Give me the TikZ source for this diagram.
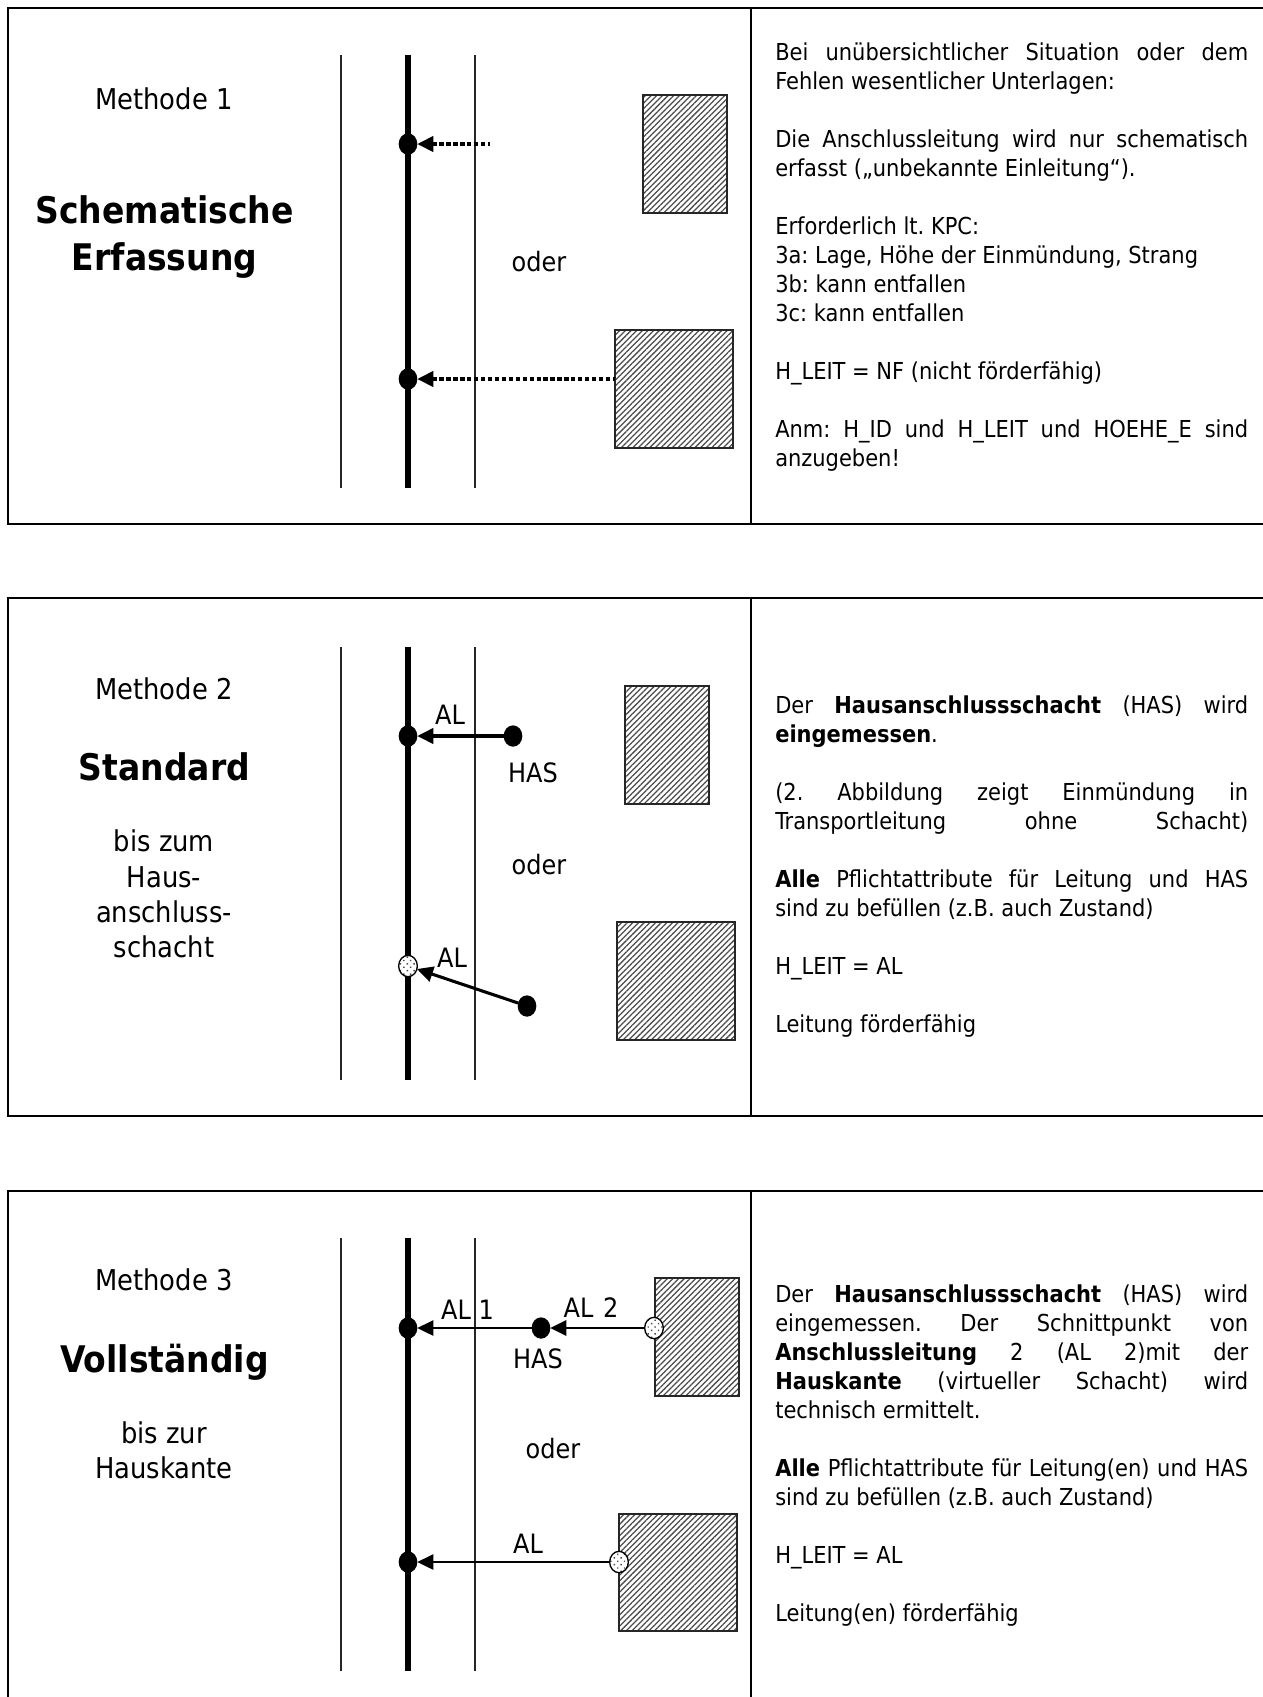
\documentclass[tikz,border=0pt]{standalone}
\usepackage{fontspec}
\setmainfont{DejaVu Sans Condensed}[BoldFont={DejaVu Sans Condensed Bold}]
\usetikzlibrary{arrows.meta,patterns.meta,shapes.geometric}
\tikzset{
  x=0.75pt,y=-0.75pt,
  wall/.style={line width=1.5pt,draw=black},
  thinrule/.style={line width=1.4pt,draw=black!85},
  mainpipe/.style={line width=4pt,draw=black},
  house/.style={rectangle,inner sep=0pt,outer sep=0pt,draw=black!85,line width=1.6pt,
    pattern={Lines[angle=45,distance=3pt,line width=0.95pt]},pattern color=black!70},
  solid dot/.style={ellipse,fill=black,inner sep=0pt,outer sep=0pt,minimum width=14pt,minimum height=16pt},
  stipple dot/.style={ellipse,draw=black,line width=1pt,inner sep=0pt,outer sep=0pt,minimum width=14pt,minimum height=16pt,
    preaction={fill=white},pattern={Dots[radius=0.75pt,distance=3.6pt,angle=45]},pattern color=black!70},
  tiparrow/.style={{Triangle[length=12pt,width=11.5pt]}-,draw=black},
  dotted line/.style={line width=2.4pt,dash pattern=on 3.2pt off 2pt},
  lab/.style={inner sep=0pt,font=\fontsize{20}{24}\selectfont},
  side/.style={inner sep=0pt,align=center,font=\fontsize{21.5}{26.4}\selectfont},
  heading/.style={inner sep=0pt,align=center,font=\fontsize{27.5}{35.25}\selectfont\bfseries},
  body/.style={inner sep=0pt,anchor=base west,font=\fontsize{17.5}{21.75}\selectfont},
}
\newlength{\bw}\setlength{\bw}{354.75pt}
\newcommand{\jl}[1]{\makebox[\bw][s]{#1}}
\newcommand{\bodytext}[1]{\parbox[t]{\bw}{\setlength{\parindent}{0pt}\raggedright\frenchspacing #1}}
\begin{document}
\begin{tikzpicture}
\useasboundingbox (0,0) rectangle (1263,1697);
\fill[white] (0,0) rectangle (1263,1697);
% ---------- panel frames
\draw[wall] (1290,8) -- (8,8) -- (8,524) -- (1290,524);
\draw[wall] (751,8) -- (751,524);
\draw[wall] (1290,598) -- (8,598) -- (8,1116) -- (1290,1116);
\draw[wall] (751,598) -- (751,1116);
\draw[wall] (1290,1191) -- (8,1191) -- (8,1720);
\draw[wall] (751,1191) -- (751,1720);
% ---------- Panel 1
\node[side] (m1) at (164,99) {Methode 1};
\node[heading] (h1) at (164.5,237) {Schematische\\Erfassung};
\draw[thinrule] (341,55) -- (341,488);
\draw[mainpipe] (408,55) -- (408,488);
\draw[thinrule] (475,55) -- (475,488);
\node[lab] (o1) at (539,262) {oder};
\node[house,minimum width=62.5pt,minimum height=88.5pt] (r1a) at (685,154) {};
\node[house,minimum width=88pt,minimum height=88pt] (r1b) at (674,389) {};
\node[solid dot] (d1a) at (408,144) {};
\node[solid dot] (d1b) at (408,379) {};
\coordinate (e1a) at (490,144);
\draw[tiparrow,dotted line] (d1a) -- (e1a);
\draw[tiparrow,dotted line] (d1b) -- (r1b.west |- d1b);
\node[body] (t1) at (775,60) {\bodytext{%
\jl{Bei unübersichtlicher Situation oder dem}\\
Fehlen wesentlicher Unterlagen:\\
\mbox{}\\
\jl{Die Anschlussleitung wird nur schematisch}\\
erfasst („unbekannte Einleitung“).\\
\mbox{}\\
Erforderlich lt. KPC:\\
3a: Lage, Höhe der Einmündung, Strang\\
3b: kann entfallen\\
3c: kann entfallen\\
\mbox{}\\
H\_LEIT = NF (nicht förderfähig)\\
\mbox{}\\
\jl{Anm: H\_ID und H\_LEIT und HOEHE\_E sind}\\
anzugeben!}};
% ---------- Panel 2
\node[side] (m2) at (164,689) {Methode 2};
\node[heading] (h2) at (164.5,767) {Standard};
\node[side] (s2) at (164,894) {bis zum\\Haus-\\anschluss-\\schacht};
\draw[thinrule] (341,647) -- (341,1080);
\draw[mainpipe] (408,647) -- (408,1080);
\draw[thinrule] (475,647) -- (475,1080);
\node[lab] (al2a) at (450,715) {AL};
\node[lab] (has2) at (533,773) {HAS};
\node[lab] (o2) at (539,865) {oder};
\node[lab] (al2b) at (452,958) {AL};
\node[house,minimum width=62.5pt,minimum height=88pt] (r2a) at (667,745) {};
\node[house,minimum width=88pt,minimum height=88pt] (r2b) at (676,981) {};
\node[solid dot] (d2a) at (408,736) {};
\node[solid dot] (d2b) at (513,736) {};
\node[stipple dot] (d2c) at (408,966) {};
\node[solid dot] (d2d) at (527,1006) {};
\draw[tiparrow,line width=2.3pt] (d2a) -- (d2b);
\draw[tiparrow,line width=2.3pt] (d2c) -- (d2d);
\node[body] (t2) at (775,713) {\bodytext{%
\jl{Der \textbf{Hausanschlussschacht} (HAS) wird}\\
\textbf{eingemessen}.\\
\mbox{}\\
\jl{(2. Abbildung zeigt Einmündung in}\\
\jl{Transportleitung ohne Schacht)}\\
\mbox{}\\
\jl{\textbf{Alle} Pflichtattribute für Leitung und HAS}\\
sind zu befüllen (z.B. auch Zustand)\\
\mbox{}\\
H\_LEIT = AL\\
\mbox{}\\
Leitung förderfähig}};
% ---------- Panel 3
\node[side] (m3) at (164,1280) {Methode 3};
\node[heading] (h3) at (164.5,1362) {Vollständig};
\node[side] (s3) at (164,1450) {bis zur\\Hauskante};
\draw[thinrule] (341,1238) -- (341,1671);
\draw[mainpipe] (408,1238) -- (408,1671);
\draw[thinrule] (475,1238) -- (475,1671);
\node[lab] (al3a) at (467.5,1310) {AL 1};
\node[lab] (al3b) at (591,1308) {AL\hspace{1.5pt} 2};
\node[lab] (has3) at (538,1359) {HAS};
\node[lab] (o3) at (553,1449) {oder};
\node[lab] (al3c) at (528,1544) {AL};
\node[house,minimum width=62.5pt,minimum height=88pt] (r3a) at (697,1337) {};
\node[house,minimum width=88pt,minimum height=88pt] (r3b) at (678,1572.5) {};
\node[solid dot] (d3a) at (408,1328) {};
\node[solid dot] (d3b) at (541,1328) {};
\node[stipple dot] (d3c) at (654,1328) {};
\node[solid dot] (d3d) at (408,1562) {};
\node[stipple dot] (d3e) at (619,1562) {};
\draw[tiparrow,line width=1.2pt] (d3a) -- (d3b);
\draw[tiparrow,line width=1.8pt] (d3b) -- (d3c);
\draw[tiparrow,line width=1.2pt] (d3d) -- (d3e);
\node[body] (t3) at (775,1302) {\bodytext{%
\jl{Der \textbf{Hausanschlussschacht} (HAS) wird}\\
\jl{eingemessen. Der Schnittpunkt von}\\
\jl{\textbf{Anschlussleitung} 2 (AL 2)mit der}\\
\jl{\textbf{Hauskante} (virtueller Schacht) wird}\\
technisch ermittelt.\\
\mbox{}\\
\jl{\textbf{Alle} Pflichtattribute für Leitung(en) und HAS}\\
sind zu befüllen (z.B. auch Zustand)\\
\mbox{}\\
H\_LEIT = AL\\
\mbox{}\\
Leitung(en) förderfähig}};
\end{tikzpicture}
\end{document}
